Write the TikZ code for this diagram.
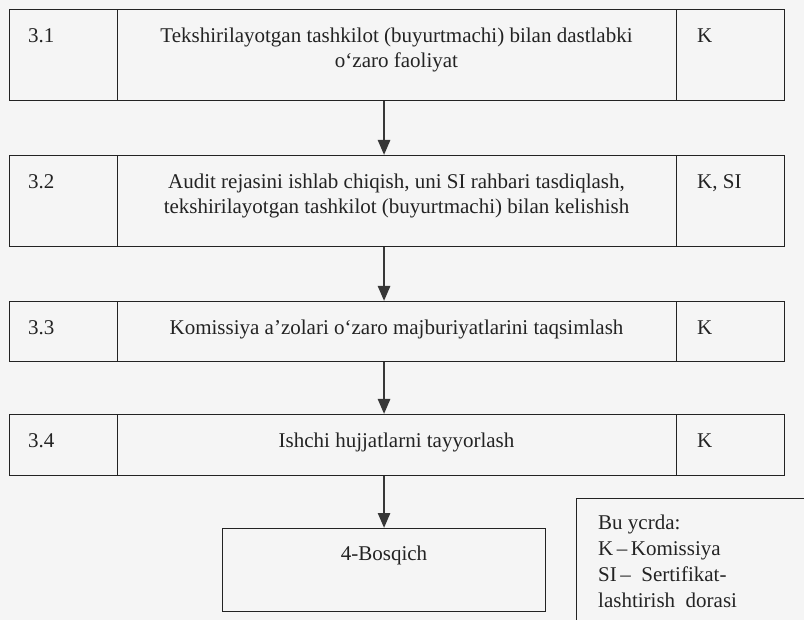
\documentclass[tikz,border=0pt]{standalone}
\usepackage{fontspec}
\setmainfont{Liberation Serif}
\usetikzlibrary{arrows.meta}
\definecolor{bg}{RGB}{245,245,245}
\definecolor{ink}{RGB}{35,35,35}
\definecolor{arrowink}{RGB}{55,55,55}
\newcommand\rs{\rule{0pt}{15pt}}
\begin{document}
\begin{tikzpicture}[x=1pt,y=-1pt,
  box/.style={draw=ink, line width=1.1pt, inner sep=0pt, anchor=north west},
  txt/.style={inner sep=0pt, text=ink, font=\fontsize{21}{25}\selectfont, align=center},
  conn/.style={draw=arrowink, line width=2.6pt, -{Triangle[width=12pt,length=15pt]}}]
\fill[bg] (0,0) rectangle (804,620);
\useasboundingbox (0,0) rectangle (804,620);
\clip (0,0) rectangle (804,620);
% row 1
\node[box, minimum width=108pt, minimum height=91pt] (n1) at (9,9) {};
\node[box, minimum width=559pt, minimum height=91pt] (m1) at (117,9) {};
\node[box, minimum width=108pt, minimum height=91pt] (k1) at (676,9) {};
\node[txt, anchor=north west] (n1t) at (28,27) {\rs 3.1};
\node[txt, anchor=north] (m1t) at (396.5,27) {\rs Tekshirilayotgan tashkilot (buyurtmachi) bilan dastlabki\\o‘zaro faoliyat};
\node[txt, anchor=north west] (k1t) at (697,27) {\rs K};
% row 2
\node[box, minimum width=108pt, minimum height=91pt] (n2) at (9,155) {};
\node[box, minimum width=559pt, minimum height=91pt] (m2) at (117,155) {};
\node[box, minimum width=108pt, minimum height=91pt] (k2) at (676,155) {};
\node[txt, anchor=north west] (n2t) at (28,173) {\rs 3.2};
\node[txt, anchor=north] (m2t) at (396.5,173) {\rs Audit rejasini ishlab chiqish, uni SI rahbari tasdiqlash,\\tekshirilayotgan tashkilot (buyurtmachi) bilan kelishish};
\node[txt, anchor=north west] (k2t) at (697,173) {\rs K, SI};
% row 3
\node[box, minimum width=108pt, minimum height=60pt] (n3) at (9,301) {};
\node[box, minimum width=559pt, minimum height=60pt] (m3) at (117,301) {};
\node[box, minimum width=108pt, minimum height=60pt] (k3) at (676,301) {};
\node[txt, anchor=north west] (n3t) at (28,319) {\rs 3.3};
\node[txt, anchor=north] (m3t) at (396.5,319) {\rs Komissiya a’zolari o‘zaro majburiyatlarini taqsimlash};
\node[txt, anchor=north west] (k3t) at (697,319) {\rs K};
% row 4
\node[box, minimum width=108pt, minimum height=61pt] (n4) at (9,414) {};
\node[box, minimum width=559pt, minimum height=61pt] (m4) at (117,414) {};
\node[box, minimum width=108pt, minimum height=61pt] (k4) at (676,414) {};
\node[txt, anchor=north west] (n4t) at (28,432) {\rs 3.4};
\node[txt, anchor=north] (m4t) at (396.5,432) {\rs Ishchi hujjatlarni tayyorlash};
\node[txt, anchor=north west] (k4t) at (697,432) {\rs K};
% final stage
\node[box, minimum width=323pt, minimum height=83pt] (fin) at (222,528) {};
\node[txt, anchor=north] (fint) at (fin.north) [yshift=-17pt] {\rs 4-Bosqich};
% legend
\node[box, minimum width=280pt, minimum height=160pt] (leg) at (576,498) {};
\node[txt, anchor=north west, align=left, font=\fontsize{21}{26}\selectfont] (legt) at (598,514)
  {\rs Bu ycrda:\\K\,–\,Komissiya\\SI\,–\ \ Sertifikat-\\lashtirish\ \ dorasi};
% connectors
\draw[conn] (m1.south -| fin.north) -- (m2.north -| fin.north);
\draw[conn] (m2.south -| fin.north) -- (m3.north -| fin.north);
\draw[conn] (m3.south -| fin.north) -- (m4.north -| fin.north);
\draw[conn] (m4.south -| fin.north) -- (fin.north);
\end{tikzpicture}
\end{document}
